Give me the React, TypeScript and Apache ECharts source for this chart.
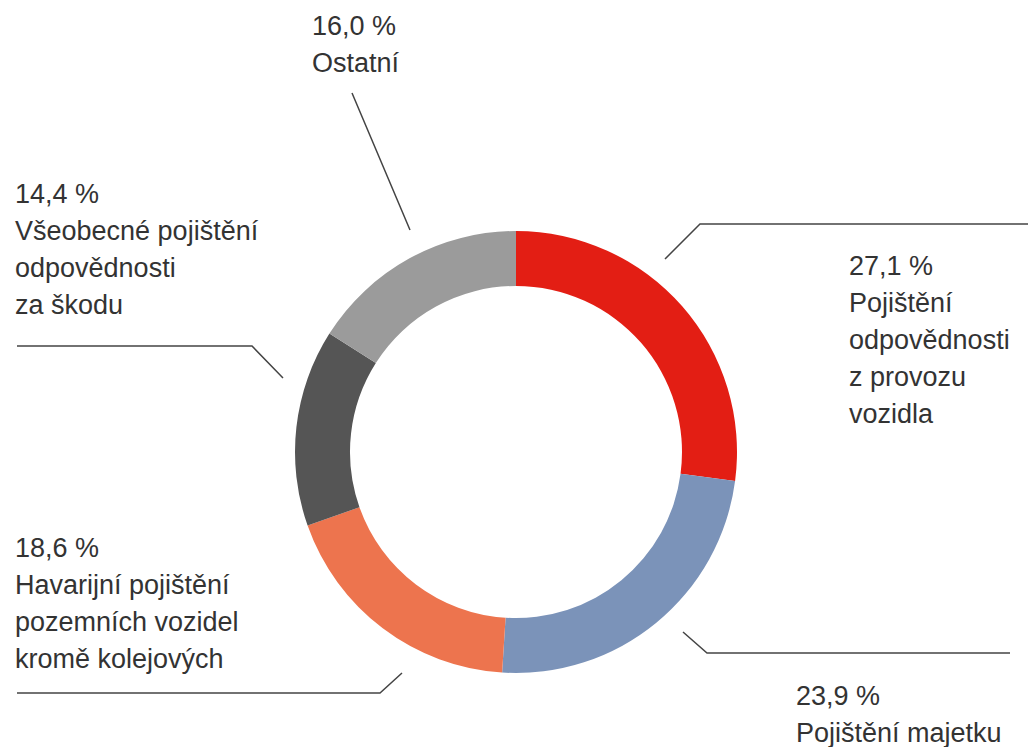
import React, { useEffect, useRef } from "react";
import * as echarts from "echarts";

const categories = [
  "Pojištění\nodpovědnosti\nz provozu\nvozidla",
  "Pojištění majetku",
  "Havarijní pojištění\npozemních vozidel\nkromě kolejových",
  "Všeobecné pojištění\nodpovědnosti\nza škodu",
  "Ostatní",
];
const shares = [27.1, 23.9, 18.6, 14.4, 16.0];
const colors = ["#E31E14", "#7B93B9", "#ED744E", "#555555", "#9B9B9B"];

// annotation placement (label top-left corner) and leader line points
const labelAnchors: [number, number][] = [
  [849, 247],
  [796, 677],
  [15, 529],
  [15, 175],
  [312, 7],
];
const leaderLines: [number, number][][] = [
  [[665, 259], [700, 224], [1028, 224]],
  [[683, 632], [707, 653], [1010, 653]],
  [[402, 673], [380, 693], [17, 693]],
  [[283, 378], [252, 346], [17, 346]],
  [[410, 230], [381, 161.5], [352, 93]],
];

const fmt = (v: number) => v.toFixed(1).replace(".", ",") + " %";

export default function App() {
  const ref = useRef<HTMLDivElement>(null);
  useEffect(() => {
    if (!ref.current) return;
    const chart = echarts.init(ref.current, undefined, { renderer: "svg" });
    chart.setOption({
      animation: false,
      backgroundColor: "#ffffff",
      series: [
        {
          type: "pie",
          center: [516, 452],
          radius: [166, 221],
          startAngle: 90,
          clockwise: true,
          avoidLabelOverlap: false,
          data: categories.map((name, i) => ({
            name,
            value: shares[i],
            itemStyle: { color: colors[i] },
          })),
          label: {
            show: true,
            position: "outside",
            formatter: (p: any) => fmt(p.value) + "\n" + p.name,
            color: "#333333",
            fontFamily: "Liberation Sans, Arial, sans-serif",
            fontSize: 27,
            lineHeight: 37,
            align: "left",
          },
          labelLine: {
            show: true,
            lineStyle: { color: "#444444", width: 1.5 },
          },
          labelLayout: (params: any) => {
            const i = params.dataIndex;
            return {
              x: labelAnchors[i][0],
              y: labelAnchors[i][1],
              align: "left",
              verticalAlign: "top",
              labelLinePoints: leaderLines[i],
            };
          },
        },
      ],
    });
    return () => chart.dispose();
  }, []);
  return (
    <div
      ref={ref}
      style={{ position: "fixed", left: 0, top: 0, width: 1030, height: 747 }}
    />
  );
}
